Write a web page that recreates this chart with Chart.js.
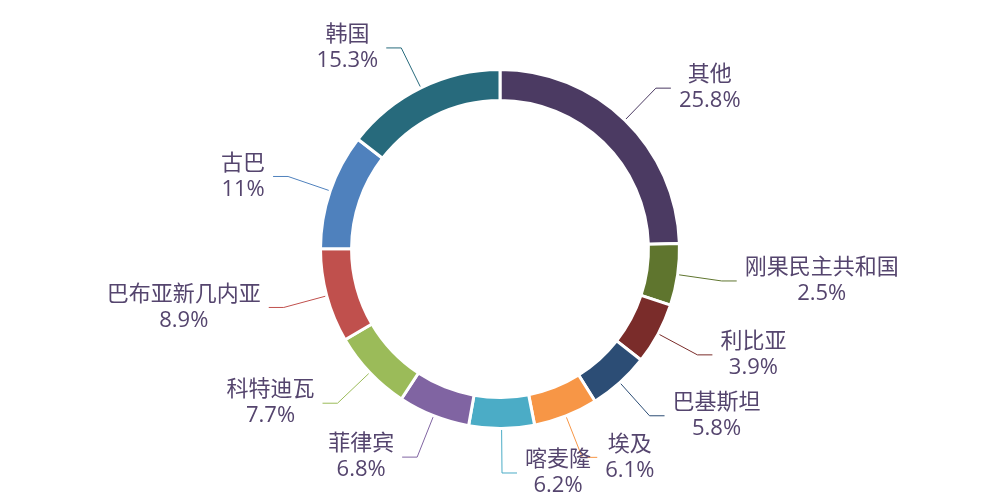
<!DOCTYPE html>
<html>
<head>
<meta charset="utf-8">
<script src="https://cdn.jsdelivr.net/npm/chart.js@4"></script>
<style>
  html, body { margin: 0; padding: 0; background: #ffffff; }
  #wrap { width: 1000px; height: 500px; }
</style>
</head>
<body>
<div id="wrap"><canvas id="c" width="1000" height="500"></canvas></div>
<script>
// ---- data ----
const categories = ['其他', '刚果民主共和国', '利比亚', '巴基斯坦', '埃及', '喀麦隆', '菲律宾', '科特迪瓦', '巴布亚新几内亚', '古巴', '韩国'];
const shares = [25.8, 2.5, 3.9, 5.8, 6.1, 6.2, 6.8, 7.7, 8.9, 11, 15.3];
const sliceColors = ['#4b3a62', '#5f752e', '#7a2c2a', '#2c4d75', '#f79646', '#4bacc6', '#8064a2', '#9bbb59', '#c0504d', '#4f81bd', '#276a7c'];
const minAngleDeg = 20; // small slices are drawn with at least this angle

// slices smaller than the minimum angle are widened, the rest share what is left
function applyMinAngle(vals, minDeg) {
  const sum = vals.reduce((a, b) => a + b, 0);
  let rest = 360, bigSum = 0;
  const small = vals.map(v => {
    if (v / sum * 360 < minDeg) { rest -= minDeg; return true; }
    bigSum += v; return false;
  });
  return vals.map((v, i) => small[i] ? minDeg : v * rest / bigSum);
}
const drawnAngles = applyMinAngle(shares, minAngleDeg);

const textColor = '#55456e';
const labelFont = '22px "Open Sans", "Noto Sans CJK SC", sans-serif';

const outsideLabels = {
  id: 'outsideLabels',
  afterDatasetsDraw(chart) {
    const ctx = chart.ctx;
    const arcs = chart.getDatasetMeta(0).data;
    ctx.save();
    ctx.font = labelFont;
    arcs.forEach((arc, i) => {
      const p = arc.getProps(['x', 'y', 'startAngle', 'endAngle', 'outerRadius'], true);
      const mid = (p.startAngle + p.endAngle) / 2;
      const dx = Math.cos(mid), dy = Math.sin(mid);
      const r1 = p.outerRadius + 1.5, len1 = 43, len2 = 15;
      const x1 = p.x + dx * r1, y1 = p.y + dy * r1;
      const x2 = p.x + dx * (r1 + len1), y2 = p.y + dy * (r1 + len1);
      const side = dx >= 0 ? 1 : -1;
      const x3 = x2 + side * len2, y3 = y2;
      ctx.strokeStyle = sliceColors[i];
      ctx.lineWidth = 1;
      ctx.beginPath();
      ctx.moveTo(x1, y1); ctx.lineTo(x2, y2); ctx.lineTo(x3, y3);
      ctx.stroke();
      const l1 = categories[i], l2 = shares[i] + '%';
      const w = Math.max(ctx.measureText(l1).width, ctx.measureText(l2).width);
      const gap = 8;
      const cx = side > 0 ? x3 + gap + w / 2 : x3 - gap - w / 2;
      ctx.fillStyle = textColor;
      ctx.textAlign = 'center';
      ctx.textBaseline = 'middle';
      ctx.fillText(l1, cx, y3 - 13);
      ctx.fillText(l2, cx, y3 + 13);
    });
    ctx.restore();
  }
};

new Chart(document.getElementById('c'), {
  type: 'doughnut',
  data: {
    labels: categories,
    datasets: [{
      data: drawnAngles,
      backgroundColor: sliceColors,
      borderColor: '#ffffff',
      borderWidth: 3,
      radius: 179.5,
      hoverOffset: 0
    }]
  },
  options: {
    responsive: false,
    animation: false,
    devicePixelRatio: 1,
    cutout: '82.7%',
    layout: { padding: { top: 0, bottom: 2, left: 0, right: 0 } },
    plugins: { legend: { display: false }, tooltip: { enabled: false } }
  },
  plugins: [outsideLabels]
});
</script>
</body>
</html>
